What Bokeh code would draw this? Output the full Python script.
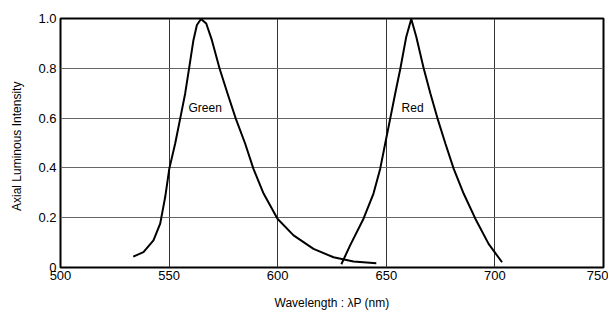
from bokeh.plotting import figure
from bokeh.models import Range1d, FixedTicker, Label
from bokeh.embed import file_html
from bokeh.resources import INLINE

# Data
green_wl = [533.5, 538.2, 542.8, 545.9, 548.2, 550.1, 552.8, 555.1, 557.4, 559.2, 561.2, 562.8,
            564.7, 567.1, 569.7, 573.2, 576.9, 580.7, 585.0, 588.8, 593.5, 599.9, 607.3, 616.5,
            625.7, 634.9, 645.4]
green_int = [0.044, 0.062, 0.109, 0.176, 0.283, 0.397, 0.498, 0.598, 0.699, 0.80, 0.913, 0.974,
             0.998, 0.98, 0.913, 0.80, 0.699, 0.598, 0.498, 0.397, 0.297, 0.196, 0.129, 0.075,
             0.041, 0.024, 0.017]

red_wl = [629.3, 633.4, 639.5, 644.1, 647.2, 649.5, 651.8, 654.1, 656.5, 659.2, 661.5, 663.8,
          667.2, 670.3, 673.6, 677.2, 681.0, 685.6, 691.0, 697.1, 703.3]
red_int = [0.013, 0.09, 0.196, 0.297, 0.397, 0.498, 0.598, 0.699, 0.80, 0.927, 0.998, 0.927,
           0.80, 0.699, 0.598, 0.498, 0.397, 0.297, 0.196, 0.095, 0.021]

x_ticks = [500, 550, 600, 650, 700, 750]
y_ticks = [0, 0.2, 0.4, 0.6, 0.8, 1.0]
y_tick_labels = {0: "0", 0.2: "0.2", 0.4: "0.4", 0.6: "0.6", 0.8: "0.8", 1.0: "1.0"}

curve_labels = ["Green", "Red"]
label_x = [566.6, 662.1]
label_y = [0.639, 0.639]

FONT = "Liberation Sans"

p = figure(width=608, height=312, output_backend="svg", toolbar_location=None,
           x_range=Range1d(500, 750), y_range=Range1d(0, 1.0),
           min_border_left=60, min_border_right=5, min_border_top=18, min_border_bottom=45)

p.outline_line_color = "black"
p.outline_line_width = 2

p.xaxis.ticker = FixedTicker(ticks=x_ticks)
p.yaxis.ticker = FixedTicker(ticks=y_ticks)
p.yaxis.major_label_overrides = y_tick_labels
for ax in (p.xaxis, p.yaxis):
    ax.axis_line_color = None
    ax.major_tick_in = 0
    ax.major_tick_out = 0
    ax.minor_tick_in = 0
    ax.minor_tick_out = 0
    ax.major_label_text_font = FONT
    ax.major_label_text_font_size = "13px"
    ax.major_label_text_color = "black"
    ax.axis_label_text_font = FONT
    ax.axis_label_text_font_size = "12px"
    ax.axis_label_text_font_style = "normal"
    ax.axis_label_text_color = "black"

p.xaxis.major_label_standoff = 3
p.yaxis.major_label_standoff = 4
p.xaxis.axis_label = "Wavelength : \u03bbP (nm)"
p.xaxis.axis_label_standoff = 13
p.yaxis.axis_label = "Axial  Luminous  Intensity"
p.yaxis.axis_label_standoff = 11

p.xgrid.grid_line_color = "#333333"
p.ygrid.grid_line_color = "#666666"
p.xgrid.grid_line_width = 1
p.ygrid.grid_line_width = 1

p.line(green_wl, green_int, line_color="black", line_width=2)
p.line(red_wl, red_int, line_color="black", line_width=2)

for t, x, y in zip(curve_labels, label_x, label_y):
    p.add_layout(Label(x=x, y=y, text=t, text_font=FONT, text_font_size="12px",
                       text_align="center", text_baseline="middle", text_color="black"))

open("out.html", "w").write(file_html(p, INLINE))
